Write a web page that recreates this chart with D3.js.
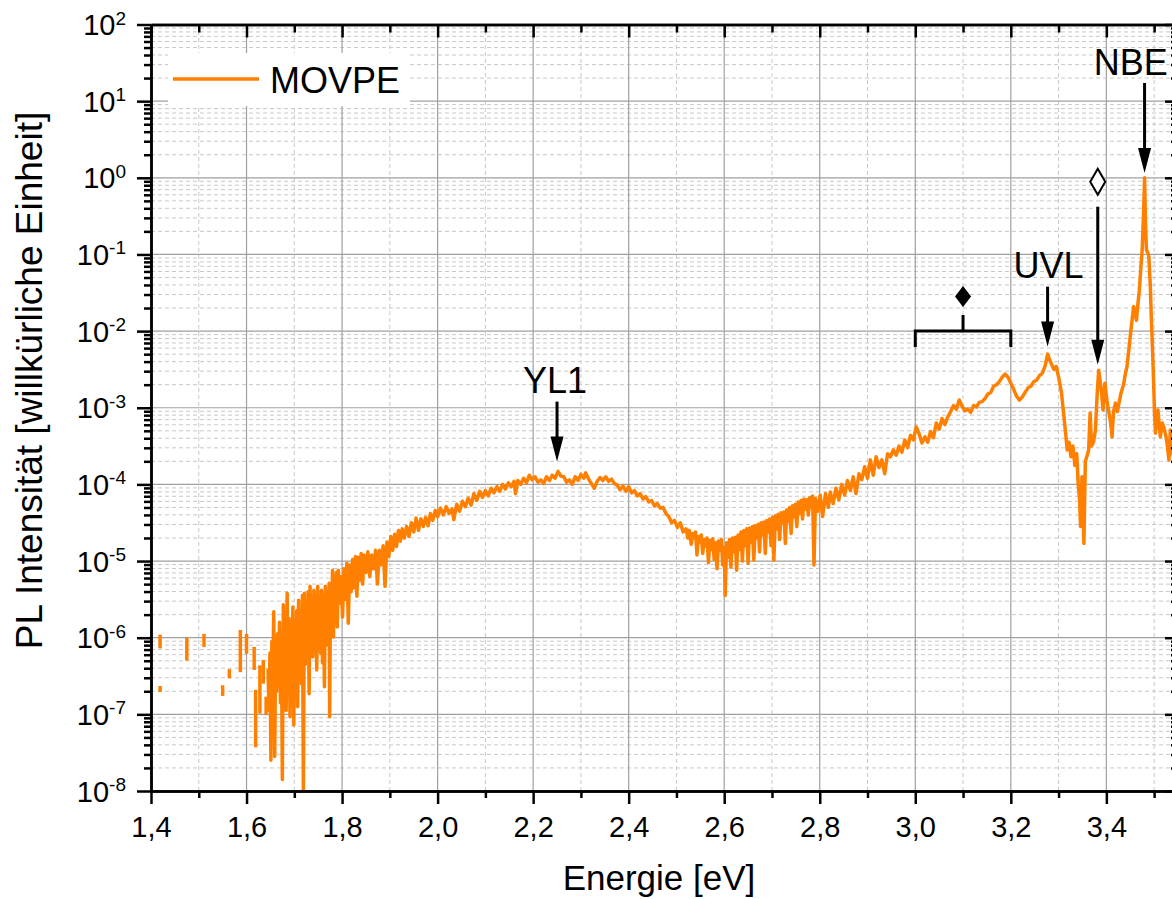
<!DOCTYPE html>
<html>
<head>
<meta charset="utf-8">
<script src="https://cdn.jsdelivr.net/npm/d3@7"></script>
<style>
  body { margin: 0; background: #fff; }
  text { font-family: 'Liberation Sans', Arial, Helvetica, sans-serif; fill: #000; }
</style>
</head>
<body>
<div id="graf"></div>
<script>
// I. Daten

// Achsen: Energie in eV, Intensität als Zehnerpotenzen
const xTicksGross = [1.4, 1.6, 1.8, 2.0, 2.2, 2.4, 2.6, 2.8, 3.0, 3.2, 3.4]
const xTicksKlein = [1.5, 1.7, 1.9, 2.1, 2.3, 2.5, 2.7, 2.9, 3.1, 3.3, 3.5]
const yDekaden = [-8, -7, -6, -5, -4, -3, -2, -1, 0, 1, 2]
const yFaktoren = [2, 3, 4, 5, 6, 7, 8, 9]

const serieName = 'MOVPE'

// einzelne Striche bei kleiner Energie (dazwischen negative Messwerte -> Lücken)
// [Energie, log10(Intensität)]
const striche = [
  [[1.419, -5.96], [1.419, -6.14]],
  [[1.419, -6.63], [1.419, -6.71]],
  [[1.475, -6.00], [1.475, -6.30]],
  [[1.511, -5.95], [1.511, -6.12]],
  [[1.550, -6.62], [1.550, -6.76]],
  [[1.564, -6.41], [1.564, -6.53]],
  [[1.587, -5.90], [1.587, -6.45]],
  [[1.600, -5.95], [1.600, -6.21]],
  [[1.616, -6.12], [1.616, -6.42]],
  [[1.619, -6.68], [1.619, -7.43]],
  [[1.628, -6.36], [1.628, -6.99]],
  [[1.635, -6.29], [1.635, -6.60]],
  [[1.641, -6.77], [1.641, -7.01]]
]

// zusammenhängendes Spektrum [Energie, log10(Intensität)]
const spektrum = [
  [1.645, -6.40], [1.647, -6.95], [1.649, -6.20], [1.651, -7.60], [1.653, -6.05], [1.655, -6.50],
  [1.657, -5.66], [1.659, -7.55], [1.661, -6.10], [1.663, -6.70], [1.665, -5.95], [1.667, -6.55],
  [1.669, -5.80], [1.671, -6.85], [1.673, -6.00], [1.675, -7.85], [1.677, -5.57], [1.679, -6.45],
  [1.681, -5.90], [1.683, -6.95], [1.685, -5.42], [1.687, -6.60], [1.689, -5.75], [1.691, -7.03],
  [1.693, -5.85], [1.695, -6.40], [1.697, -5.60], [1.699, -7.14], [1.701, -5.80], [1.703, -6.30],
  [1.705, -5.65], [1.707, -6.90], [1.709, -5.51], [1.711, -6.20], [1.713, -5.70], [1.715, -6.60],
  [1.717, -5.45], [1.719, -7.99], [1.721, -5.42], [1.723, -6.35], [1.725, -5.55], [1.727, -6.10],
  [1.729, -5.40], [1.731, -6.73], [1.733, -5.33], [1.735, -6.00], [1.737, -5.50], [1.739, -6.25],
  [1.741, -5.38], [1.743, -5.95], [1.745, -5.45], [1.747, -6.42], [1.749, -5.33], [1.751, -5.90],
  [1.753, -5.50], [1.755, -6.20], [1.757, -5.38], [1.759, -6.33], [1.761, -5.45], [1.763, -6.64],
  [1.765, -5.33], [1.767, -5.85], [1.769, -5.40], [1.771, -6.10], [1.773, -5.29], [1.774, -7.03],
  [1.776, -5.35], [1.778, -5.80], [1.780, -5.12], [1.782, -5.99], [1.784, -5.20], [1.786, -5.70],
  [1.788, -5.15], [1.790, -5.86], [1.792, -5.12], [1.795, -5.55], [1.798, -5.20], [1.801, -5.73],
  [1.804, -5.10], [1.807, -5.50], [1.810, -5.03], [1.813, -5.81], [1.816, -5.05], [1.819, -5.40],
  [1.822, -4.98], [1.825, -5.35], [1.828, -4.94], [1.831, -5.46], [1.834, -4.95], [1.837, -5.25],
  [1.840, -4.90], [1.843, -5.30], [1.846, -4.92], [1.850, -5.15], [1.854, -4.88], [1.858, -5.20],
  [1.862, -4.92], [1.866, -5.10], [1.870, -4.86], [1.874, -5.30], [1.878, -4.86], [1.882, -5.05],
  [1.886, -4.80], [1.890, -5.33], [1.894, -4.75], [1.898, -4.94], [1.902, -4.68], [1.906, -4.86],
  [1.910, -4.65], [1.914, -4.81], [1.918, -4.60], [1.922, -4.74], [1.926, -4.58], [1.930, -4.70],
  [1.935, -4.55], [1.940, -4.68], [1.945, -4.50], [1.950, -4.62], [1.955, -4.44], [1.960, -4.60],
  [1.965, -4.45], [1.970, -4.55], [1.975, -4.43], [1.980, -4.54], [1.985, -4.38], [1.990, -4.47],
  [1.995, -4.34], [2.000, -4.42], [2.006, -4.31], [2.012, -4.40], [2.018, -4.29], [2.024, -4.38],
  [2.030, -4.32], [2.034, -4.46], [2.040, -4.26], [2.046, -4.35], [2.052, -4.22], [2.058, -4.29],
  [2.064, -4.18], [2.070, -4.27], [2.076, -4.12], [2.082, -4.21], [2.088, -4.09], [2.094, -4.17],
  [2.100, -4.08], [2.106, -4.15], [2.112, -4.05], [2.118, -4.11], [2.124, -4.03], [2.130, -4.09],
  [2.136, -4.00], [2.142, -4.06], [2.148, -3.98], [2.154, -4.03], [2.160, -3.96], [2.163, -4.12],
  [2.168, -3.95], [2.174, -4.00], [2.180, -3.92], [2.186, -3.98], [2.192, -3.88], [2.198, -3.94],
  [2.204, -3.90], [2.210, -3.97], [2.216, -3.94], [2.222, -3.99], [2.228, -3.90], [2.234, -3.95],
  [2.240, -3.88], [2.246, -3.92], [2.252, -3.83], [2.258, -3.89], [2.264, -3.90], [2.270, -3.97],
  [2.276, -3.94], [2.282, -4.00], [2.288, -3.90], [2.294, -3.95], [2.300, -3.87], [2.306, -3.92],
  [2.310, -3.85], [2.316, -3.93], [2.322, -3.99], [2.328, -4.05], [2.334, -3.96], [2.340, -3.91],
  [2.346, -3.95], [2.352, -3.90], [2.358, -3.96], [2.364, -3.93], [2.370, -3.99], [2.376, -4.01],
  [2.382, -4.07], [2.388, -4.02], [2.394, -4.09], [2.400, -4.03], [2.406, -4.11], [2.412, -4.08],
  [2.418, -4.15], [2.424, -4.12], [2.430, -4.19], [2.436, -4.16], [2.442, -4.23], [2.448, -4.21],
  [2.454, -4.28], [2.460, -4.25], [2.466, -4.31], [2.472, -4.30], [2.478, -4.38], [2.484, -4.42],
  [2.490, -4.50], [2.496, -4.47], [2.502, -4.56], [2.508, -4.50], [2.514, -4.62], [2.520, -4.58],
  [2.524, -4.70], [2.527, -4.60], [2.531, -4.78], [2.534, -4.64], [2.537, -4.70], [2.540, -4.62],
  [2.543, -4.92], [2.546, -4.68], [2.549, -4.75], [2.552, -4.66], [2.555, -4.90], [2.558, -4.72],
  [2.561, -4.80], [2.564, -4.70], [2.567, -5.02], [2.570, -4.73], [2.573, -4.85], [2.576, -4.71],
  [2.579, -4.98], [2.582, -4.76], [2.585, -5.10], [2.588, -4.74], [2.591, -4.86], [2.594, -4.72],
  [2.597, -5.05], [2.600, -4.82], [2.602, -5.45], [2.605, -4.76], [2.608, -4.95], [2.611, -4.72],
  [2.614, -5.08], [2.617, -4.70], [2.620, -4.88], [2.623, -4.69], [2.626, -5.12], [2.629, -4.66],
  [2.632, -4.85], [2.635, -4.62], [2.638, -5.00], [2.641, -4.60], [2.644, -4.80], [2.647, -4.58],
  [2.650, -5.03], [2.653, -4.57], [2.656, -4.75], [2.659, -4.55], [2.662, -4.99], [2.665, -4.54],
  [2.668, -4.70], [2.671, -4.52], [2.674, -4.88], [2.677, -4.50], [2.680, -4.66], [2.683, -4.49],
  [2.686, -4.90], [2.689, -4.47], [2.692, -4.62], [2.695, -4.45], [2.698, -4.80], [2.701, -4.43],
  [2.704, -4.99], [2.707, -4.41], [2.710, -4.58], [2.713, -4.39], [2.716, -4.72], [2.719, -4.37],
  [2.722, -4.50], [2.725, -4.36], [2.728, -4.77], [2.731, -4.33], [2.734, -4.48], [2.737, -4.30],
  [2.740, -4.64], [2.743, -4.28], [2.746, -4.42], [2.749, -4.26], [2.752, -4.55], [2.755, -4.23],
  [2.758, -4.38], [2.761, -4.21], [2.764, -4.45], [2.767, -4.19], [2.770, -4.32], [2.773, -4.20],
  [2.776, -4.40], [2.779, -4.17], [2.782, -4.30], [2.785, -4.15],
  [2.788, -5.05], [2.791, -4.18], [2.796, -4.35], [2.801, -4.14], [2.806, -4.42], [2.812, -4.12],
  [2.818, -4.30], [2.822, -4.10], [2.828, -4.25], [2.834, -4.05], [2.840, -4.20], [2.846, -4.00],
  [2.852, -4.14], [2.858, -3.95], [2.864, -4.08], [2.870, -3.90], [2.876, -4.12], [2.882, -3.86],
  [2.888, -3.94], [2.894, -3.77], [2.900, -3.92], [2.906, -3.68], [2.912, -3.88], [2.918, -3.64],
  [2.924, -3.78], [2.930, -3.68], [2.936, -3.86], [2.942, -3.60], [2.948, -3.64], [2.954, -3.55],
  [2.960, -3.62], [2.966, -3.50], [2.972, -3.58], [2.978, -3.42], [2.984, -3.52], [2.990, -3.36],
  [2.996, -3.42], [3.002, -3.25], [3.008, -3.34], [3.014, -3.46], [3.020, -3.38], [3.026, -3.45],
  [3.032, -3.31], [3.038, -3.39], [3.044, -3.20], [3.050, -3.28], [3.056, -3.14], [3.062, -3.22],
  [3.068, -3.12], [3.074, -3.05], [3.080, -2.97], [3.086, -3.02], [3.092, -2.90], [3.098, -2.98],
  [3.104, -3.04], [3.110, -3.02], [3.116, -3.06], [3.122, -2.97], [3.128, -2.99], [3.134, -2.93],
  [3.140, -2.92], [3.146, -2.88], [3.152, -2.82], [3.158, -2.80], [3.164, -2.72], [3.170, -2.70],
  [3.176, -2.66], [3.182, -2.60], [3.188, -2.56], [3.194, -2.60], [3.200, -2.68], [3.206, -2.76],
  [3.212, -2.85], [3.218, -2.90], [3.224, -2.86], [3.230, -2.80], [3.236, -2.74], [3.242, -2.72],
  [3.248, -2.66], [3.254, -2.64], [3.260, -2.58], [3.266, -2.55], [3.272, -2.45], [3.277, -2.30],
  [3.283, -2.40], [3.290, -2.50], [3.295, -2.46], [3.300, -2.60], [3.306, -2.80], [3.311, -3.10],
  [3.315, -3.35], [3.318, -3.55], [3.322, -3.45], [3.326, -3.64], [3.330, -3.50], [3.334, -3.75],
  [3.338, -3.60], [3.341, -3.99], [3.344, -4.20], [3.346, -4.55], [3.349, -3.90], [3.351, -4.30],
  [3.353, -4.77], [3.356, -3.70], [3.360, -3.62], [3.363, -3.55], [3.366, -3.07], [3.369, -3.50],
  [3.373, -3.45], [3.377, -3.30], [3.381, -2.80], [3.384, -2.51], [3.387, -2.65], [3.390, -2.80],
  [3.393, -3.03], [3.397, -2.68], [3.401, -2.90], [3.405, -3.05], [3.409, -3.20], [3.412, -3.38],
  [3.415, -3.05], [3.419, -2.94], [3.423, -3.05], [3.427, -2.92], [3.431, -2.80], [3.436, -2.70],
  [3.440, -2.55], [3.443, -2.47], [3.447, -2.25], [3.450, -2.07], [3.454, -1.85], [3.457, -1.68],
  [3.460, -1.75], [3.463, -1.86], [3.466, -1.65], [3.469, -1.47], [3.472, -1.20], [3.475, -0.94],
  [3.478, -0.45], [3.480, 0.00], [3.482, -0.60], [3.484, -0.94], [3.487, -0.98], [3.489, -1.03],
  [3.492, -1.40], [3.494, -1.81], [3.497, -2.30], [3.499, -2.68], [3.501, -3.10], [3.503, -3.33],
  [3.506, -3.10], [3.508, -3.03], [3.511, -3.25], [3.513, -3.38], [3.517, -3.20], [3.520, -3.25],
  [3.524, -3.35], [3.527, -3.46], [3.531, -3.68], [3.534, -3.29], [3.538, -3.55], [3.542, -3.70],
  [3.548, -3.75]
]

// Beschriftungen der Banden (Energie, log10 der Grundlinie)
const banden = [
  { text: 'YL1', e: 2.246, log: -2.81 },
  { text: 'UVL', e: 3.279, log: -1.31 },
  { text: 'NBE', e: 3.451, log: 1.34 }
]
// Pfeile: Energie, Anfang oben und Spitze (log10)
const pfeile = [
  { e: 2.25, oben: -2.92, spitze: -3.70 },
  { e: 3.277, oben: -1.42, spitze: -2.20 },
  { e: 3.382, oben: -0.377, spitze: -2.44 },
  { e: 3.48, oben: 1.237, spitze: 0.063 }
]
// Klammer von 3,0 bis 3,2 eV mit gefüllter Raute, offene Raute über dem Pfeil bei 3,38 eV
const klammer = { von: 3.0, bis: 3.2, log: -2.0 }
const offeneRaute = { e: 3.382, log: -0.05 }

// II. Konfiguration
const ancho_total = 1172
const alto_total = 899
const margins = { top: 24.5, left: 151, right: -6, bottom: 108 }
const naranja = '#ff8000'

const svg = d3.select('#graf').append('svg')
  .attr('width', ancho_total)
  .attr('height', alto_total)

const x = d3.scaleLinear()
  .domain([1.4, 3.55])
  .range([margins.left, ancho_total - margins.right])
const y = d3.scaleLog()
  .domain([1e-8, 1e2])
  .range([alto_total - margins.bottom, margins.top])

const x0 = x.range()[0], x1 = x.range()[1]
const y0 = y.range()[0], y1 = y.range()[1]

svg.append('clipPath').attr('id', 'clip')
  .append('rect')
  .attr('x', x0).attr('y', y1)
  .attr('width', x1 - x0).attr('height', y0 - y1)

const yKlein = []
yDekaden.slice(0, -1).forEach(n => yFaktoren.forEach(k => yKlein.push(k * Math.pow(10, n))))
const yGross = yDekaden.map(n => Math.pow(10, n))

// III. Gitter
const gitter = svg.append('g').attr('clip-path', 'url(#clip)')

gitter.selectAll('.xminor').data(xTicksKlein).enter().append('line')
  .attr('x1', d => x(d)).attr('x2', d => x(d))
  .attr('y1', y0).attr('y2', y1)
  .attr('stroke', '#c8c8c8').attr('stroke-width', 1).attr('stroke-dasharray', '4,3')
gitter.selectAll('.yminor').data(yKlein).enter().append('line')
  .attr('x1', x0).attr('x2', x1)
  .attr('y1', d => y(d)).attr('y2', d => y(d))
  .attr('stroke', '#c8c8c8').attr('stroke-width', 1).attr('stroke-dasharray', '4,3')
gitter.selectAll('.xmajor').data(xTicksGross).enter().append('line')
  .attr('x1', d => x(d)).attr('x2', d => x(d))
  .attr('y1', y0).attr('y2', y1)
  .attr('stroke', '#a0a0a0').attr('stroke-width', 1.2)
gitter.selectAll('.ymajor').data(yGross).enter().append('line')
  .attr('x1', x0).attr('x2', x1)
  .attr('y1', d => y(d)).attr('y2', d => y(d))
  .attr('stroke', '#a0a0a0').attr('stroke-width', 1.2)

// IV. Kurve
const linea = d3.line()
  .x(d => x(d[0]))
  .y(d => y(Math.pow(10, d[1])))

const kurve = svg.append('g').attr('clip-path', 'url(#clip)')
kurve.selectAll('.strich').data(striche).enter().append('path')
  .attr('d', linea)
  .attr('fill', 'none').attr('stroke', naranja).attr('stroke-width', 3.5)
kurve.append('path').datum(spektrum)
  .attr('d', linea)
  .attr('fill', 'none').attr('stroke', naranja).attr('stroke-width', 3.5)
  .attr('stroke-linejoin', 'round')

// V. Achsen
function estilo(g) {
  g.selectAll('line').attr('stroke', '#000').attr('stroke-width', 2.5)
  g.select('.domain').attr('stroke', '#000').attr('stroke-width', 2.5)
}
const fmtX = d => d3.format('.1f')(d).replace('.', ',')

const xAbajo = svg.append('g').attr('transform', `translate(0, ${y0})`)
  .call(d3.axisBottom(x).tickValues(xTicksGross).tickSize(13).tickSizeOuter(0).tickFormat(fmtX))
  .call(estilo)
xAbajo.selectAll('text')
  .attr('y', 46).attr('dy', 0)
  .style('font-size', '29px')
  .style('font-family', "'Liberation Sans', Arial, sans-serif")
svg.append('g').attr('transform', `translate(0, ${y0})`)
  .call(d3.axisBottom(x).tickValues(xTicksKlein).tickSize(7).tickSizeOuter(0).tickFormat(''))
  .call(estilo)

svg.append('g').attr('transform', `translate(0, ${y1})`)
  .call(d3.axisTop(x).tickValues(xTicksGross).tickSize(-13).tickSizeOuter(0).tickFormat(''))
  .call(estilo)
svg.append('g').attr('transform', `translate(0, ${y1})`)
  .call(d3.axisTop(x).tickValues(xTicksKlein).tickSize(-8).tickSizeOuter(0).tickFormat(''))
  .call(estilo)

svg.append('g').attr('transform', `translate(${x0}, 0)`)
  .call(d3.axisLeft(y).tickValues(yGross).tickSize(14).tickSizeOuter(0).tickFormat(''))
  .call(estilo)
svg.append('g').attr('transform', `translate(${x0}, 0)`)
  .call(d3.axisLeft(y).tickValues(yKlein).tickSize(7).tickSizeOuter(0).tickFormat(''))
  .call(estilo)

svg.append('g').attr('transform', `translate(${x1}, 0)`)
  .call(d3.axisRight(y).tickValues(yGross).tickSize(-13).tickSizeOuter(0).tickFormat(''))
  .call(estilo)
svg.append('g').attr('transform', `translate(${x1}, 0)`)
  .call(d3.axisRight(y).tickValues(yKlein).tickSize(-7).tickSizeOuter(0).tickFormat(''))
  .call(estilo)

// Potenz-Beschriftung der y-Achse
const yEtiquetas = svg.selectAll('.ylab').data(yDekaden).enter().append('text')
  .attr('x', x0 - 25)
  .attr('y', d => y(Math.pow(10, d)) + 10.5)
  .attr('text-anchor', 'end')
  .style('font-size', '29px')
yEtiquetas.append('tspan').text('10')
yEtiquetas.append('tspan')
  .attr('dy', -10.5)
  .style('font-size', '19px')
  .text(d => d)

// Achsentitel
svg.append('text')
  .attr('x', 659).attr('y', 890)
  .attr('text-anchor', 'middle')
  .style('font-size', '35px')
  .text('Energie [eV]')
svg.append('text')
  .attr('transform', 'translate(42, 380.5) rotate(-90)')
  .attr('text-anchor', 'middle')
  .style('font-size', '37px')
  .text('PL Intensität [willkürliche Einheit]')

// VI. Legende
svg.append('rect')
  .attr('x', 168).attr('y', 53).attr('width', 242).attr('height', 53)
  .attr('fill', '#fff')
svg.append('line')
  .attr('x1', 173).attr('x2', 259).attr('y1', 79).attr('y2', 79)
  .attr('stroke', naranja).attr('stroke-width', 3.5)
svg.append('text')
  .attr('x', 270).attr('y', 93)
  .style('font-size', '36px')
  .text(serieName)

// VII. Annotationen
const ly = v => y(Math.pow(10, v))

svg.selectAll('.banda').data(banden).enter().append('text')
  .attr('x', d => x(d.e)).attr('y', d => ly(d.log))
  .attr('text-anchor', 'middle')
  .style('font-size', '36px')
  .text(d => d.text)

const cabeza = 25, mitad = 6.5
pfeile.forEach(p => {
  const px = x(p.e), pTop = ly(p.oben), pTip = ly(p.spitze)
  svg.append('line')
    .attr('x1', px).attr('x2', px)
    .attr('y1', pTop).attr('y2', pTip - cabeza + 2)
    .attr('stroke', '#000').attr('stroke-width', 3)
  svg.append('path')
    .attr('d', `M${px - mitad},${pTip - cabeza} L${px + mitad},${pTip - cabeza} L${px},${pTip} Z`)
    .attr('fill', '#000')
})

// Klammer
const kY = ly(klammer.log), kM = x((klammer.von + klammer.bis) / 2)
svg.append('path')
  .attr('d', `M${x(klammer.von)},${kY + 16} V${kY} H${x(klammer.bis)} V${kY + 16} M${kM},${kY} V${kY - 16}`)
  .attr('fill', 'none').attr('stroke', '#000').attr('stroke-width', 3)
svg.append('path')
  .attr('d', `M${kM},${kY - 45} L${kM + 8},${kY - 34.5} L${kM},${kY - 24} L${kM - 8},${kY - 34.5} Z`)
  .attr('fill', '#000')

// offene Raute
const rX = x(offeneRaute.e), rY = ly(offeneRaute.log)
svg.append('path')
  .attr('d', `M${rX},${rY - 13} L${rX + 7.5},${rY} L${rX},${rY + 13} L${rX - 7.5},${rY} Z`)
  .attr('fill', '#fff').attr('stroke', '#000').attr('stroke-width', 2)
</script>
</body>
</html>
